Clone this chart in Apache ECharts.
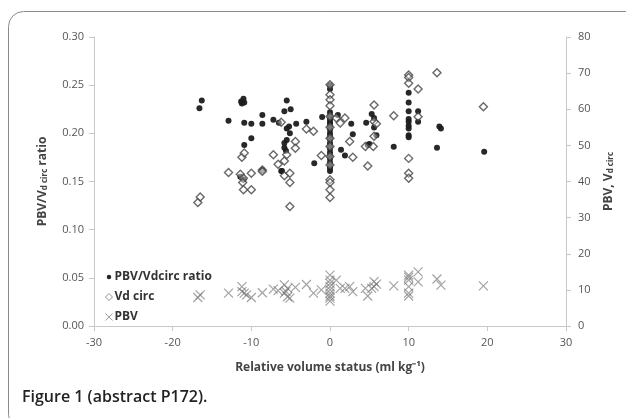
<!DOCTYPE html>
<html><head><meta charset="utf-8">
<script src="https://cdn.jsdelivr.net/npm/echarts@6/dist/echarts.min.js"></script>
<style>html,body{margin:0;padding:0;background:#fff}#c{width:626px;height:418px}</style>
</head><body><div id="c"></div>
<script>
// x tick labels / y tick ranges
var xTicks = [-30, -20, -10, 0, 10, 20, 30];
var leftTicks = [0, 0.05, 0.10, 0.15, 0.20, 0.25, 0.30];
var rightTicks = [0, 10, 20, 30, 40, 50, 60, 70, 80];
var seriesNames = ['PBV/Vdcirc ratio', 'Vd circ', 'PBV'];

// PBV/Vdcirc ratio (left axis)
var ratioX = [-16.6,-16.3,-11.3,-11.0,-11.2,-10.9,-12.9,-10.9,-10.0,-8.6,-8.6,-7.2,-6.5,-10.9,-10.0,-11.4,-11.0,-8.6,
  -5.5,-5.8,-5.0,-4.3,-5.5,-5.2,-5.1,-5.8,-5.5,-5.8,-5.6,-6.2,-6.1,-3.0,-2.0,-1.0,
  0,0,0,0,0,0,0,0,0,0,0,0,0,0,0,0,0,0,0,0,0,0,
  1.0,1.4,1.9,2.7,2.9,4.6,4.8,5.3,5.6,5.6,5.9,5.0,8.1,
  10,10,10,10,10,10,10,10,10,11.2,11.2,13.9,14.1,13.6,19.6];
var ratioY = [0.226,0.234,0.233,0.236,0.231,0.232,0.213,0.211,0.210,0.219,0.210,0.214,0.211,0.188,0.195,0.155,0.152,0.162,
  0.234,0.223,0.225,0.210,0.205,0.207,0.200,0.190,0.193,0.185,0.182,0.161,0.161,0.212,0.169,0.217,
  0.250,0.246,0.222,0.218,0.215,0.212,0.210,0.207,0.204,0.200,0.197,0.194,0.190,0.187,0.184,0.180,0.177,0.174,0.170,0.166,0.164,0.161,
  0.219,0.183,0.177,0.210,0.199,0.211,0.188,0.220,0.216,0.206,0.198,0.189,0.186,
  0.242,0.232,0.223,0.215,0.212,0.208,0.205,0.198,0.196,0.223,0.212,0.207,0.205,0.185,0.181];

// Vd circ (right axis)
var vdX = [-16.8,-16.5,-12.9,-11.2,-10.9,-11.4,-11.0,-11.1,-11.0,-10.0,-10.0,-8.6,-8.6,-7.2,-6.6,-6.2,-5.8,-5.5,-5.8,-5.1,-5.1,-5.1,-4.4,-4.4,-3.0,-2.1,-1.1,
  0,0,0,0,0,0,0,0,0,0,0,0,0,0,
  0.8,1.3,1.9,2.5,2.9,4.5,4.8,5.6,5.6,5.9,5.5,5.6,8.1,
  10,10,10,10,10,10,11.2,11.2,13.6,19.5];
var vdY = [34.2,35.7,42.5,46.7,47.9,42.0,40.9,39.7,37.7,42.3,37.7,43.2,42.8,47.4,44.8,56.4,45.7,47.4,41.6,42.3,39.7,33.1,51.1,49.2,54.5,53.9,47.2,
  66.8,64.0,62.6,61.0,58.0,55.0,52.0,49.7,46.9,44.6,40.5,39.7,37.7,35.6,
  57.6,56.2,57.6,51.1,46.7,49.7,44.3,61.2,56.6,56.0,49.7,52.5,58.2,
  69.5,68.8,67.2,46.4,42.3,40.9,65.6,57.9,70.1,60.7];

// PBV (right axis)
var pbvX = [-16.8,-16.5,-12.9,-11.2,-11.2,-10.9,-10.6,-10.0,-8.6,-7.2,-6.6,-5.8,-5.4,-5.8,-5.4,-5.1,-5.6,-4.4,-3.0,-2.1,-1.1,
  0,0,0,0,0,0,0,0,0,
  0.8,1.3,1.9,2.5,2.9,4.5,4.8,5.6,5.9,5.6,5.3,8.1,
  10,10,10,10,10,10,11.2,11.2,13.6,14.1,19.5];
var pbvY = [7.9,8.6,9.1,10.9,9.5,9.1,8.6,7.9,9.2,10.2,9.8,11.4,10.4,9.1,8.1,7.7,9.6,10.7,11.5,9.1,10.0,
  14.1,12.7,11.8,10.9,10.0,9.1,8.3,7.7,6.9,
  12.7,10.4,10.4,10.9,9.5,10.4,8.3,12.3,11.6,10.9,10.4,11.1,
  14.1,13.5,12.7,10.9,9.1,8.3,15.0,12.2,13.0,11.3,11.1];

function pairs(xs, ys) { return xs.map(function (x, i) { return [x, ys[i]]; }); }

var FONT = 'Open Sans';
var crossPath = 'path://M0,0L10,10M10,0L0,10';
var smallDot = 'path://M0,0M10,10M5,1.8A3.2,3.2 0 1 1 5,8.2A3.2,3.2 0 1 1 5,1.8Z';
var chart = echarts.init(document.getElementById('c'), null, {renderer: 'canvas'});
var axisLineStyle = {color: '#c8c8c8', width: 1};
var subRich = {
  a: {fontFamily: FONT, fontSize: 12, fontWeight: 'bold', color: '#444', lineHeight: 16, verticalAlign: 'bottom'},
  s: {fontFamily: FONT, fontSize: 8, fontWeight: 'bold', color: '#444', lineHeight: 16, verticalAlign: 'bottom', padding: [5, 0, 0, 0]}
};
chart.setOption({
  animation: false,
  backgroundColor: '#fff',
  textStyle: {fontFamily: FONT},
  graphic: [
    {type: 'rect', shape: {x: 8.5, y: 11.5, width: 700, height: 418, r: 15},
     style: {fill: 'none', stroke: '#8a8a8a', lineWidth: 1}},
    {type: 'text', left: 22, top: 389,
     style: {text: 'Figure 1 (abstract P172).', fontFamily: FONT, fontSize: 16, fontWeight: 600, fill: '#222'}}
  ],
  grid: {left: 94, right: 60, top: 37, bottom: 92},
  legend: {
    orient: 'vertical', left: 103, top: 270, padding: 0,
    itemWidth: 7, itemHeight: 7, itemGap: 6,
    textStyle: {fontFamily: FONT, fontSize: 12, fontWeight: 'bold', color: '#333', lineHeight: 14, padding: [0, 0, 0, -3]},
    data: [
      {name: seriesNames[0], icon: smallDot, itemStyle: {color: '#1a1a1a', borderWidth: 0}},
      {name: seriesNames[1], icon: 'diamond', itemStyle: {color: '#fff', borderColor: '#777', borderWidth: 1}},
      {name: seriesNames[2], icon: crossPath, itemStyle: {color: 'none', borderColor: '#888', borderWidth: 1}}
    ]
  },
  xAxis: {
    type: 'value', min: xTicks[0], max: xTicks[xTicks.length - 1], interval: 10,
    name: 'Relative volume status (ml kg\u207B\u00B9)', nameLocation: 'middle', nameGap: 36,
    nameTextStyle: {fontFamily: FONT, fontSize: 12, fontWeight: 'bold', color: '#444'},
    axisLine: {show: true, onZero: false, lineStyle: axisLineStyle},
    axisTick: {show: true, length: 5, lineStyle: axisLineStyle},
    axisLabel: {margin: 11, fontSize: 11, color: '#555', fontFamily: FONT},
    splitLine: {show: false}
  },
  yAxis: [
    {
      type: 'value', min: leftTicks[0], max: leftTicks[leftTicks.length - 1], interval: 0.05,
      name: '{a|PBV/V}{s|d circ}{a| ratio}', nameLocation: 'middle', nameGap: 45, nameRotate: 90,
      nameTextStyle: {rich: subRich},
      axisLine: {show: true, onZero: false, lineStyle: axisLineStyle},
      axisTick: {show: true, length: 5, lineStyle: axisLineStyle},
      axisLabel: {margin: 10, fontSize: 11, color: '#555', fontFamily: FONT, formatter: function (v) { return v.toFixed(2); }},
      splitLine: {show: false}
    },
    {
      type: 'value', position: 'right', min: rightTicks[0], max: rightTicks[rightTicks.length - 1], interval: 10,
      name: '{a|PBV, V}{s|d circ}', nameLocation: 'middle', nameGap: 32, nameRotate: 90,
      nameTextStyle: {rich: subRich},
      axisLine: {show: true, onZero: false, lineStyle: axisLineStyle},
      axisTick: {show: true, length: 5, lineStyle: axisLineStyle},
      axisLabel: {margin: 12, fontSize: 11, color: '#555', fontFamily: FONT},
      splitLine: {show: false}
    }
  ],
  series: [
    {name: seriesNames[2], type: 'scatter', yAxisIndex: 1, data: pairs(pbvX, pbvY),
     symbol: crossPath, symbolSize: 9,
     itemStyle: {color: 'none', borderColor: 'rgba(120,120,120,0.85)', borderWidth: 1.2}},
    {name: seriesNames[0], type: 'scatter', yAxisIndex: 0, data: pairs(ratioX, ratioY),
     symbol: 'circle', symbolSize: 6, itemStyle: {color: '#1c1c1c', opacity: 0.95}},
    {name: seriesNames[1], type: 'scatter', yAxisIndex: 1, data: pairs(vdX, vdY),
     symbol: 'diamond', symbolSize: 8,
     itemStyle: {color: 'rgba(255,255,255,0.5)', borderColor: '#444', borderWidth: 1.4}}
  ]
});
</script></body></html>
